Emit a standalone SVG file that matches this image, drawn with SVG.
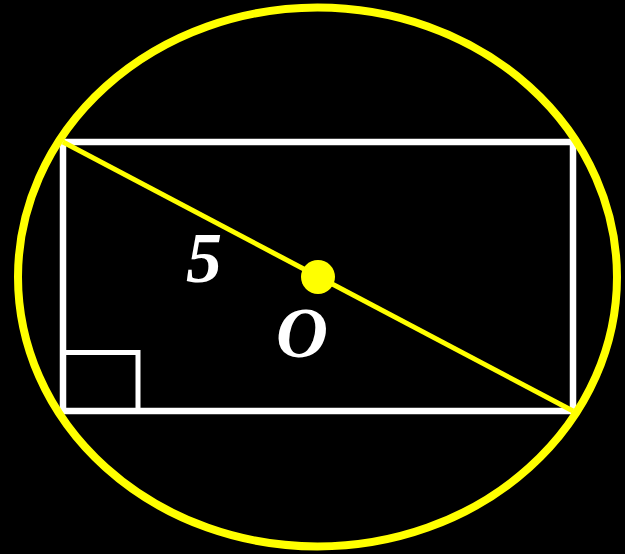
<svg xmlns="http://www.w3.org/2000/svg" width="625" height="554" viewBox="0 0 625 554">
<style>
.lbl{font-family:"Liberation Serif","Times New Roman",serif;font-weight:bold;font-style:italic;font-size:72px;fill:#fff}
.w{fill:none;stroke:#fff;stroke-width:6.5}
.y{fill:none;stroke:#ff0;stroke-width:8}
</style>
<rect width="625" height="554" fill="#000"/>
<g id="rectangle">
<rect class="w" x="63" y="142" width="510" height="269"/>
<polyline class="w" points="63,352.5 138,352.5 138,411" style="stroke-width:5"/>
</g>
<g id="circle">
<ellipse class="y" cx="317.5" cy="277" rx="299.5" ry="269.5"/>
</g>
<g id="connectors">
<line x1="63" y1="142" x2="573" y2="411" stroke="#ff0" stroke-width="5"/>
</g>
<g id="center">
<circle cx="318" cy="277" r="17" fill="#ff0"/>
</g>
<text class="lbl" x="186" y="282">5</text>
<text class="lbl" x="276" y="357">O</text>
</svg>
